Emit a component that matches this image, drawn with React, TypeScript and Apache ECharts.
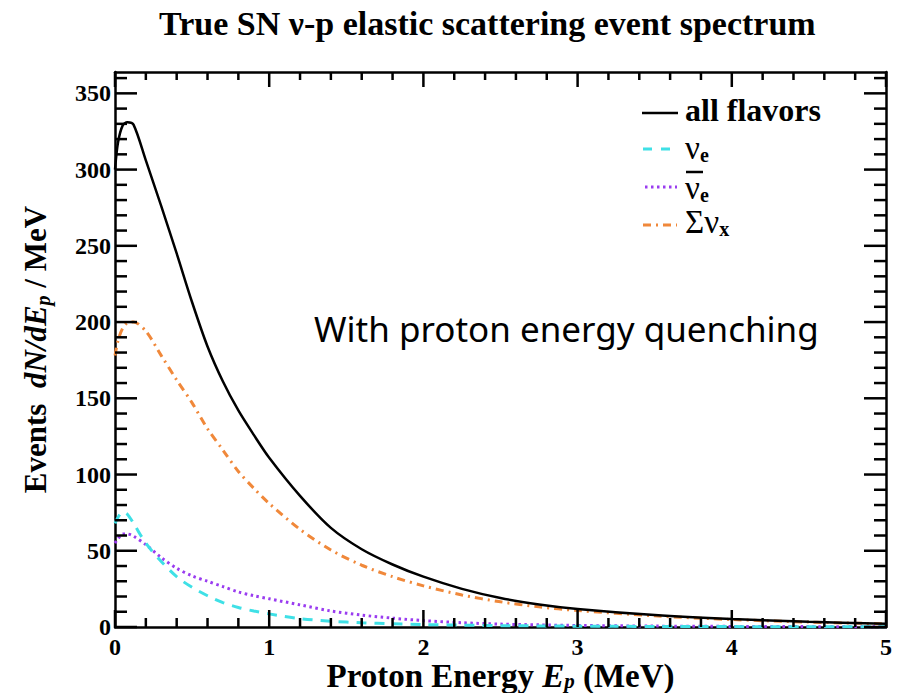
import React, { useEffect, useRef } from "react";
import * as echarts from "echarts";

// Proton energy grid (MeV)
const energies = [0, 0.02, 0.05, 0.08, 0.12, 0.2, 0.3, 0.4, 0.5, 0.6, 0.7, 0.8, 0.9, 1.0, 1.2, 1.4, 1.6, 1.8, 2.0, 2.25, 2.5, 2.75, 3.0, 3.5, 4.0, 4.5, 5.0];
// Events dN/dE_p per MeV
const allFlavors = [300, 318, 329, 331, 329.5, 306, 276, 245, 213, 184, 161, 142, 126, 111, 86, 65, 51, 41, 33, 25, 19, 14.8, 11.8, 7.8, 5.2, 3.4, 2.2];
const nuE = [68, 72, 75.5, 74, 68, 55, 43, 33, 26, 20.5, 16, 12.8, 10.5, 8.6, 5.5, 3.8, 2.8, 2.1, 1.6, 1.2, 0.9, 0.7, 0.55, 0.35, 0.25, 0.15, 0.1];
const nuEbar = [55, 58, 61, 61, 59.5, 54, 45.5, 38.5, 33.5, 30, 26.5, 23, 20.5, 18.5, 14.5, 10.5, 7.8, 5.8, 4.2, 2.8, 1.9, 1.4, 1.0, 0.6, 0.4, 0.25, 0.15];
const nuX = [178, 188, 196, 199.5, 200, 194, 178, 162, 147, 130, 116, 102, 91, 81, 64, 50.5, 40.5, 33, 27, 21, 16.5, 13.2, 10.8, 7.3, 4.9, 3.2, 2.1];

const seriesNames = ["all flavors", "nu_e", "anti nu_e", "sum nu_x"];
const yMajorTicks = [0, 50, 100, 150, 200, 250, 300, 350];
const yMinorTicks = [10, 20, 30, 40, 60, 70, 80, 90, 110, 120, 130, 140, 160, 170, 180, 190, 210, 220, 230, 240, 260, 270, 280, 290, 310, 320, 330, 340, 360];
const xMajorTicks = [0, 1, 2, 3, 4, 5];
const xMinorTicks = [0.2, 0.4, 0.6, 0.8, 1.2, 1.4, 1.6, 1.8, 2.2, 2.4, 2.6, 2.8, 3.2, 3.4, 3.6, 3.8, 4.2, 4.4, 4.6, 4.8];
const Y_MAX = 364;
const X_MAX = 5;

const SERIF = "'Liberation Serif', 'Times New Roman', 'DejaVu Serif', serif";
const CYAN = "#3fe0e6";
const PURPLE = "#9a3cf0";
const ORANGE = "#f0883a";

const GRID = { left: 115, top: 72, width: 771, height: 555 };

const pairs = (ys: number[]) => energies.map((x, i) => [x, ys[i]]);

// tick segments in data units (lengths given in pixels, converted with the grid size)
const pxToX = (px: number) => (px * X_MAX) / GRID.width;
const pxToY = (px: number) => (px * Y_MAX) / GRID.height;
const tickSegments: number[][][] = [];
const addXTick = (v: number, lenB: number, lenT: number) => {
  tickSegments.push([[v, 0], [v, pxToY(lenB)]]);
  tickSegments.push([[v, Y_MAX], [v, Y_MAX - pxToY(lenT)]]);
};
const addYTick = (v: number, len: number) => {
  tickSegments.push([[0, v], [pxToX(len), v]]);
  tickSegments.push([[X_MAX, v], [X_MAX - pxToX(len), v]]);
};
xMajorTicks.forEach((v) => addXTick(v, 17, 15));
xMinorTicks.forEach((v) => addXTick(v, 9, 8));
yMajorTicks.forEach((v) => addYTick(v, 22));
yMinorTicks.forEach((v) => addYTick(v, 12));

export default function App() {
  const ref = useRef<HTMLDivElement>(null);
  useEffect(() => {
    if (!ref.current) return;
    const chart = echarts.init(ref.current, null, { renderer: "svg" });
    const mkAxisLine = () => ({ show: true, onZero: false, lineStyle: { color: "#000", width: 2.5 } });
    const labelStyle = { color: "#000", fontFamily: SERIF, fontWeight: "bold", fontSize: 24 };

    const xRich = {
      b: { fontFamily: SERIF, fontWeight: "bold", fontSize: 33, lineHeight: 30, color: "#000" },
      i: { fontFamily: SERIF, fontWeight: "bold", fontStyle: "italic", fontSize: 33, lineHeight: 30, color: "#000" },
      s: { fontFamily: SERIF, fontWeight: "bold", fontStyle: "italic", fontSize: 21, lineHeight: 14, verticalAlign: "bottom", color: "#000" },
    };
    const yRich = {
      b: { fontFamily: SERIF, fontWeight: "bold", fontSize: 31, lineHeight: 36, color: "#000" },
      i: { fontFamily: SERIF, fontWeight: "bold", fontStyle: "italic", fontSize: 31, lineHeight: 36, color: "#000" },
      s: { fontFamily: SERIF, fontWeight: "bold", fontStyle: "italic", fontSize: 20, lineHeight: 18, verticalAlign: "bottom", color: "#000" },
    };

    const lineSeries = (name: string, ys: number[], color: string, type: any, width: number, z: number) => ({
      type: "line",
      name,
      data: pairs(ys),
      smooth: 0.3,
      showSymbol: false,
      symbol: "none",
      z,
      lineStyle: { color, width, type },
      itemStyle: { color },
    });

    const tickSeries = tickSegments.map((seg, i) => ({
      type: "line",
      name: "tick" + i,
      data: seg,
      showSymbol: false,
      symbol: "none",
      silent: true,
      clip: false,
      z: 20,
      lineStyle: { color: "#000", width: 2.5, type: "solid" },
      itemStyle: { color: "#000" },
    }));

    const legendText = (x: number, y: number, text: string, rich?: any) => ({
      type: "text",
      x,
      y,
      z: 100,
      style: {
        text,
        fill: "#000",
        fontFamily: SERIF,
        fontSize: 32,
        fontWeight: "bold",
        verticalAlign: "middle",
        textVerticalAlign: "middle",
        rich,
      },
    });
    const greek = {
      g: { fontFamily: SERIF, fontSize: 33, fontWeight: "normal", lineHeight: 34, fill: "#000" },
      s: { fontFamily: SERIF, fontSize: 20, fontWeight: "bold", lineHeight: 17, verticalAlign: "bottom", fill: "#000" },
    };

    chart.setOption({
      animation: false,
      backgroundColor: "#fff",
      title: {
        text: "True SN \u03bd-p elastic scattering event spectrum",
        left: 154,
        top: 1,
        textStyle: { fontFamily: SERIF, fontWeight: "bold", fontSize: 34, color: "#000" },
      },
      grid: { ...GRID, containLabel: false, outerBoundsMode: "none" },
      xAxis: [
        {
          type: "value",
          position: "bottom",
          min: 0,
          max: X_MAX,
          interval: 1,
          axisLine: mkAxisLine(),
          axisTick: { show: false },
          axisLabel: { ...labelStyle, margin: 8 },
          splitLine: { show: false },
          name: "{b|Proton Energy }{i|E}{s|p}{b| (MeV)}",
          nameLocation: "middle",
          nameGap: 34,
          nameMoveOverlap: false,
          nameTextStyle: { color: "#000", fontFamily: SERIF, fontWeight: "bold", fontSize: 33, rich: xRich },
        },
        {
          type: "value",
          position: "top",
          min: 0,
          max: X_MAX,
          interval: 1,
          axisLine: mkAxisLine(),
          axisTick: { show: false },
          axisLabel: { show: false },
          splitLine: { show: false },
        },
      ],
      yAxis: [
        {
          type: "value",
          position: "left",
          min: 0,
          max: Y_MAX,
          interval: 50,
          axisLine: mkAxisLine(),
          axisTick: { show: false },
          axisLabel: {
            ...labelStyle,
            margin: 4,
            showMaxLabel: false,
            formatter: (v: number) => (yMajorTicks.includes(v) ? String(v) : ""),
          },
          splitLine: { show: false },
          name: "{b|Events  }{i|dN/dE}{s|p}{b| / MeV}",
          nameLocation: "middle",
          nameGap: 62,
          nameMoveOverlap: false,
          nameTextStyle: { color: "#000", fontFamily: SERIF, fontWeight: "bold", fontSize: 31, rich: yRich },
        },
        {
          type: "value",
          position: "right",
          min: 0,
          max: Y_MAX,
          interval: 50,
          axisLine: mkAxisLine(),
          axisTick: { show: false },
          axisLabel: { show: false },
          splitLine: { show: false },
        },
      ],
      series: [
        lineSeries(seriesNames[3], nuX, ORANGE, [8, 5, 2, 5], 3, 2),
        lineSeries(seriesNames[2], nuEbar, PURPLE, [2.5, 3.5], 3, 3),
        lineSeries(seriesNames[1], nuE, CYAN, [10, 8], 3, 4),
        lineSeries(seriesNames[0], allFlavors, "#000", "solid", 2.5, 5),
        ...tickSeries,
      ],
      graphic: {
        elements: [
          { type: "line", z: 100, shape: { x1: 642, y1: 113, x2: 678, y2: 113 }, style: { stroke: "#000", lineWidth: 2.5 } },
          { type: "line", z: 100, shape: { x1: 643, y1: 149, x2: 677, y2: 149 }, style: { stroke: CYAN, lineWidth: 3, lineDash: [9, 9] } },
          { type: "line", z: 100, shape: { x1: 645, y1: 187, x2: 677, y2: 187 }, style: { stroke: PURPLE, lineWidth: 3, lineDash: [2.5, 3.5] } },
          { type: "line", z: 100, shape: { x1: 643, y1: 225, x2: 677, y2: 225 }, style: { stroke: ORANGE, lineWidth: 3, lineDash: [8, 5, 2, 5] } },
          legendText(685, 110, "all flavors"),
          legendText(685, 148, "{g|\u03bd}{s|e}", greek),
          legendText(685, 188, "{g|\u03bd}{s|e}", greek),
          { type: "line", z: 100, shape: { x1: 686, y1: 172, x2: 703, y2: 172 }, style: { stroke: "#000", lineWidth: 2.5 } },
          legendText(685, 222, "{g|\u03a3\u03bd}{s|x}", greek),
          {
            type: "text",
            x: 314,
            y: 328,
            z: 100,
            style: {
              text: "With proton energy quenching",
              fill: "#000",
              fontFamily: "'Noto Sans', 'Open Sans', sans-serif",
              fontSize: 35,
              fontWeight: "normal",
              verticalAlign: "middle",
              textVerticalAlign: "middle",
            },
          },
        ],
      },
    });
    return () => chart.dispose();
  }, []);
  return <div ref={ref} style={{ position: "absolute", left: 0, top: 0, width: 900, height: 693 }} />;
}
